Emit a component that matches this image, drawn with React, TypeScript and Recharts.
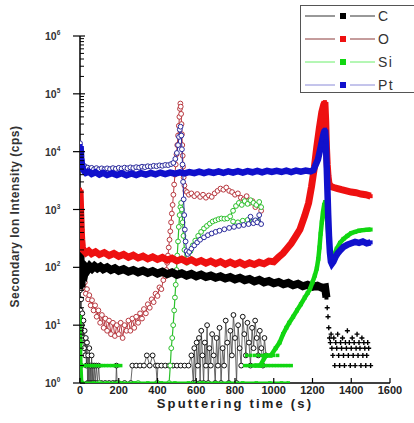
import { ScatterChart, Scatter, XAxis, YAxis, Legend } from "recharts"

type P = [number, number]

const xTicks = [0, 200, 400, 600, 800, 1000, 1200, 1400, 1600]
const yMajorTicks = [1, 10, 100, 1000, 10000, 100000, 1000000]
const yMinorSteps = [2, 3, 4, 5, 6, 7, 8, 9]
const seriesNames = ["C", "O", "Si", "Pt"]

// sample 1 (filled squares) - interface near 1260 s
const ptFilled: P[] = [
  [0, 11000], [3, 12500], [6, 8000], [10, 6000], [15, 5000], [22, 4600], [30, 4300], [45, 4500], [60, 4100],
  [80, 4400], [100, 4000], [120, 4300], [140, 3950], [165, 4250], [190, 3950], [215, 4250], [240, 3900],
  [265, 4200], [290, 3950], [315, 4250], [340, 4000], [365, 4300], [390, 4050], [415, 4350], [440, 4100],
  [465, 4350], [490, 4150], [515, 4400], [540, 4200], [565, 4450], [590, 4250], [615, 4500], [640, 4250],
  [665, 4500], [690, 4300], [715, 4550], [740, 4300], [765, 4550], [790, 4350], [815, 4600], [840, 4350],
  [865, 4600], [890, 4400], [915, 4650], [940, 4400], [965, 4650], [990, 4450], [1015, 4650], [1040, 4450],
  [1065, 4700], [1090, 4450], [1115, 4700], [1140, 4500], [1165, 4700], [1190, 4550], [1205, 4800],
  [1215, 5800], [1228, 7300], [1240, 11000], [1250, 16000], [1258, 21000], [1265, 24000], [1269, 15000],
  [1273, 6000], [1277, 2200], [1281, 800], [1285, 350], [1290, 180], [1295, 125], [1300, 115], [1308, 125],
  [1318, 150], [1330, 175], [1345, 200], [1360, 225], [1380, 245], [1400, 260], [1420, 275], [1440, 265],
  [1460, 280], [1480, 260], [1500, 270],
]

const oFilled: P[] = [
  [0, 2200], [2, 1400], [4, 800], [6, 450], [9, 300], [12, 230], [16, 200], [22, 190], [30, 178], [45, 192],
  [60, 172], [80, 186], [100, 166], [125, 180], [150, 160], [175, 174], [200, 155], [225, 167], [250, 149],
  [275, 162], [300, 145], [325, 156], [350, 140], [375, 152], [400, 137], [425, 148], [450, 133], [475, 144],
  [500, 129], [525, 139], [550, 125], [575, 135], [600, 121], [625, 131], [650, 118], [675, 128], [700, 116],
  [725, 126], [750, 113], [775, 123], [800, 112], [825, 122], [850, 110], [875, 120], [900, 112], [925, 122],
  [950, 115], [975, 128], [1000, 125], [1025, 150], [1048, 175], [1070, 215], [1090, 260], [1110, 330],
  [1135, 450], [1160, 780], [1180, 1300], [1195, 2500], [1210, 5500], [1222, 12000], [1235, 25000],
  [1248, 48000], [1258, 65000], [1264, 72000], [1268, 35000], [1272, 12000], [1276, 6000], [1280, 3800],
  [1285, 2800], [1295, 2500], [1310, 2400], [1330, 2300], [1350, 2200], [1375, 2100], [1400, 2000],
  [1425, 1950], [1450, 1850], [1475, 1800], [1500, 1700],
]

const cFilled: P[] = [
  [0, 900], [2, 300], [4, 60], [7, 45], [10, 70], [14, 60], [18, 85], [24, 80], [30, 100], [40, 92], [50, 104],
  [62, 95], [75, 105], [90, 96], [105, 103], [120, 93], [140, 100], [160, 90], [180, 96], [200, 87], [225, 93],
  [250, 84], [275, 90], [300, 82], [325, 88], [350, 80], [375, 86], [400, 78], [425, 84], [450, 76], [475, 82],
  [500, 74], [525, 79], [550, 72], [575, 77], [600, 70], [625, 75], [650, 68], [675, 72], [700, 66], [725, 70],
  [750, 64], [775, 68], [800, 62], [825, 66], [850, 60], [875, 63], [900, 57], [925, 61], [950, 55], [975, 58],
  [1000, 53], [1025, 56], [1050, 51], [1075, 54], [1100, 49], [1125, 52], [1150, 47], [1175, 50], [1200, 46],
  [1225, 48], [1250, 44], [1265, 45], [1272, 30],
]

// counting noise after the interface
const cFilledTail: P[] = [
  [1276, 20], [1280, 14], [1284, 9], [1288, 6], [1292, 5], [1296, 7], [1300, 4], [1305, 3], [1310, 6],
  [1315, 2], [1320, 5], [1325, 4], [1330, 7], [1335, 3], [1340, 2], [1345, 5], [1350, 4], [1355, 6],
  [1360, 3], [1365, 2], [1370, 5], [1375, 4], [1380, 8], [1385, 3], [1390, 5], [1395, 2], [1400, 4],
  [1405, 6], [1410, 3], [1415, 5], [1420, 2], [1425, 4], [1430, 7], [1435, 3], [1440, 5], [1445, 4],
  [1450, 2], [1455, 6], [1460, 3], [1465, 5], [1470, 4], [1475, 2], [1480, 3], [1485, 5], [1490, 4], [1500, 2],
]

const siFilled: P[] = [
  [0, 14], [3, 6], [6, 2], [10, 1], [70, 1], [140, 1], [210, 1], [280, 1], [350, 1], [420, 1], [490, 1],
  [560, 1], [630, 1], [700, 1], [770, 1], [840, 1], [910, 1], [980, 1], [1040, 1], [1075, 1],
]

const siFilledRise: P[] = [
  [900, 2], [930, 2], [960, 3], [985, 3], [1010, 4], [1030, 5], [1048, 7], [1065, 9], [1080, 11], [1100, 14],
  [1120, 18], [1140, 23], [1160, 30], [1175, 36], [1187, 42], [1200, 55], [1212, 72], [1222, 95], [1230, 140],
  [1236, 220], [1242, 380], [1248, 600], [1254, 900], [1260, 1200], [1265, 1350], [1270, 1000], [1276, 600],
  [1282, 350], [1288, 210], [1294, 150], [1300, 140], [1310, 160], [1325, 210], [1342, 265], [1360, 310],
  [1380, 350], [1400, 390], [1420, 410], [1440, 430], [1460, 440], [1480, 445], [1500, 450],
]

const siFilledLow: P[] = [
  [5, 2], [18, 2], [30, 2], [42, 2], [55, 2], [68, 2], [80, 2], [95, 2], [108, 2], [120, 2], [135, 2],
  [150, 2], [165, 2], [180, 2], [195, 2], [210, 2], [850, 2], [865, 2], [880, 2], [895, 2], [910, 2],
  [925, 2], [940, 2], [955, 2], [970, 2], [985, 2], [1000, 2], [1015, 2], [1030, 2], [1045, 2], [1060, 2],
  [1075, 2], [1090, 2], [860, 3], [880, 3], [900, 3], [920, 3], [940, 3], [1000, 3], [1020, 3],
]

// sample 2 (open circles) - interface near 520 s
const ptOpen: P[] = [
  [0, 14000], [3, 11000], [6, 8500], [9, 7000], [13, 6000], [18, 5500], [25, 5600], [32, 5100], [40, 5300],
  [50, 5000], [60, 5250], [72, 4950], [85, 5200], [98, 4950], [112, 5150], [126, 4950], [140, 5150],
  [155, 5000], [170, 5200], [185, 5050], [200, 5250], [215, 5100], [230, 5300], [245, 5150], [260, 5350],
  [275, 5200], [290, 5400], [305, 5300], [320, 5500], [335, 5400], [350, 5600], [365, 5500], [380, 5700],
  [395, 5600], [410, 5800], [425, 5700], [440, 5900], [455, 5850], [470, 6100], [482, 6400], [492, 7500],
  [500, 9500], [506, 13000], [511, 18000], [515, 24000], [519, 27000], [523, 19000], [526, 11000],
  [529, 6000], [532, 3000], [535, 1500], [538, 800], [541, 450], [545, 280], [550, 190], [556, 170],
  [564, 185], [575, 210], [590, 240], [605, 270], [620, 300], [640, 330], [660, 360], [680, 385], [700, 410],
  [720, 430], [745, 455], [770, 480], [795, 500], [820, 520], [845, 540], [870, 560], [880, 750], [895, 580],
  [905, 650], [915, 600], [925, 800], [935, 560],
]

const oOpen: P[] = [
  [0, 110], [4, 80], [8, 90], [12, 60], [16, 70], [20, 45], [25, 55], [30, 35], [36, 42], [42, 28], [48, 33],
  [55, 22], [62, 27], [70, 18], [78, 22], [86, 14], [95, 18], [104, 11], [113, 15], [122, 9], [131, 13],
  [140, 8], [150, 12], [160, 7], [170, 11], [180, 6.5], [190, 10], [200, 7], [210, 11], [220, 6], [230, 10],
  [240, 8], [250, 12], [260, 8], [270, 13], [280, 9], [290, 14], [300, 11], [310, 16], [320, 13], [330, 19],
  [340, 16], [350, 23], [360, 20], [370, 28], [380, 25], [390, 35], [400, 32], [410, 45], [420, 42], [430, 60],
  [440, 70], [446, 90], [450, 120], [454, 160], [458, 220], [462, 300], [466, 420], [470, 600], [474, 850],
  [478, 1200], [482, 1800], [486, 2700], [490, 4000], [494, 6000], [498, 9000], [502, 13000], [506, 19000],
  [510, 28000], [513, 40000], [516, 55000], [518, 68000], [520, 60000], [522, 45000], [524, 30000],
  [526, 20000], [528, 13000], [530, 8500], [532, 5500], [535, 3600], [539, 2600], [544, 2100], [552, 2000],
  [562, 1800], [575, 1900], [590, 1700], [605, 1850], [620, 1650], [635, 1800], [650, 1600], [665, 1750],
  [680, 1650], [695, 1900], [710, 2100], [725, 2300], [740, 2200], [755, 2400], [770, 2100], [785, 2000],
  [800, 1800], [815, 1900], [830, 1600], [845, 1500], [860, 1700], [875, 1300], [890, 1400], [905, 1100],
  [920, 1200], [935, 950],
]

const siOpen: P[] = [
  [0, 10], [3, 5], [6, 2], [10, 1], [100, 1], [200, 1], [300, 1], [400, 1], [460, 1], [466, 2], [471, 4],
  [476, 6], [481, 10], [486, 18], [490, 30], [494, 50], [498, 90], [502, 160], [506, 280], [510, 500],
  [514, 800], [518, 1100], [522, 1300], [526, 1000], [530, 600], [534, 350], [539, 200], [545, 130],
  [552, 120], [560, 150], [570, 190], [582, 240], [595, 290], [610, 350], [625, 410], [640, 470], [655, 520],
  [670, 570], [685, 620], [700, 650], [715, 680], [730, 700], [745, 690], [760, 700], [775, 760], [790, 950],
  [805, 1150], [820, 1300], [835, 1200], [850, 1400], [865, 1250], [880, 1450], [895, 1300], [910, 1200],
  [925, 1350], [935, 1100],
]

const siOpenLow: P[] = [[790, 620], [815, 600], [840, 640], [865, 660], [890, 610], [915, 640]]

const cOpen: P[] = [
  [0, 40], [3, 18], [6, 28], [9, 10], [12, 16], [15, 6], [18, 12], [21, 4], [24, 8], [27, 3], [30, 6], [33, 2],
  [36, 5], [39, 1], [42, 3], [45, 1], [48, 4], [51, 1], [54, 2], [57, 1], [60, 3], [63, 1], [66, 2], [70, 1],
  [74, 2], [78, 1], [84, 2], [90, 1], [96, 2], [102, 1], [110, 1], [130, 1], [150, 1], [170, 1], [185, 1],
  [188, 2], [192, 1], [230, 1], [262, 1], [270, 2], [290, 2], [310, 2], [330, 2], [345, 3], [360, 2], [375, 3],
  [392, 2], [398, 1], [402, 2], [420, 2], [440, 2], [460, 2], [480, 2], [500, 2], [520, 2], [540, 2], [560, 2],
  [575, 3], [585, 1], [590, 4], [596, 1], [602, 5], [608, 2], [614, 6], [620, 1], [626, 8], [632, 3], [638, 1],
  [644, 5], [650, 2], [656, 10], [662, 1], [668, 4], [675, 2], [682, 7], [690, 3], [698, 1], [705, 6],
  [712, 2], [720, 9], [728, 1], [736, 4], [744, 2], [752, 12], [760, 5], [768, 1], [776, 8], [784, 3],
  [792, 15], [800, 6], [808, 1], [816, 10], [824, 4], [832, 2], [840, 14], [848, 7], [856, 3], [864, 11],
  [872, 5], [880, 2], [888, 9], [896, 4], [904, 12], [912, 6], [920, 3], [928, 8], [936, 4], [944, 2],
  [952, 6], [960, 3],
]

const FONT = "'Liberation Sans', Arial, Helvetica, sans-serif"

const COLORS = {
  C: { mark: "#000000", line: "#333333", open: "#111111" },
  O: { mark: "#ee1111", line: "#8b3a3a", open: "#b8383f" },
  Si: { mark: "#11d611", line: "#6aee6a", open: "#2cc02c" },
  Pt: { mark: "#1111cc", line: "#8a8ad8", open: "#2a2a9c" },
}

const toPts = (arr: P[]) => arr.map(([t, v]) => ({ t, v }))

const yTicks = [
  ...yMajorTicks,
  ...yMajorTicks.slice(0, -1).flatMap((d) => yMinorSteps.map((k) => k * d)),
].sort((a, b) => a - b)

const square = (color: string, s = 4) => (p: any) =>
  <rect x={p.cx - s / 2} y={p.cy - s / 2} width={s} height={s} fill={color} />

const ring = (color: string) => (p: any) =>
  <circle cx={p.cx} cy={p.cy} r={2.4} fill="#fff" stroke={color} strokeWidth={1} />

const plus = (p: any) =>
  <path d={`M${p.cx - 2.5},${p.cy}h5M${p.cx},${p.cy - 2.5}v5`} stroke="#000" strokeWidth={1.4} />

function XTick({ x, y, payload }: any) {
  return (
    <g>
      <line x1={x} x2={x} y1={y} y2={y - 5} stroke="#000" strokeWidth={1.2} />
      <text x={x} y={y + 11} textAnchor="middle" fontFamily={FONT} fontSize={11} fontWeight={600} fill="#222">
        {payload.value}
      </text>
    </g>
  )
}

function YTick({ x, y, payload }: any) {
  const idx = yMajorTicks.indexOf(payload.value)
  if (idx < 0) {
    return <line x1={x} x2={x + 4} y1={y} y2={y} stroke="#000" strokeWidth={1} />
  }
  return (
    <g>
      <line x1={x - 7} x2={x + 5} y1={y} y2={y} stroke="#000" strokeWidth={1.2} />
      <text x={x - 35} y={y + 4} fontFamily={FONT} fontSize={10.5} fontWeight={600} fill="#333">
        10<tspan dy={-5} fontSize={6.5}>{idx}</tspan>
      </text>
    </g>
  )
}

function LegendBox() {
  return (
    <div style={{ width: 114, height: 88, border: "1px solid #555", borderRight: "none", background: "#fff", boxSizing: "border-box" }}>
      <svg width={113} height={86} style={{ display: "block" }}>
        {seriesNames.map((name, i) => {
          const c = COLORS[name as keyof typeof COLORS]
          const y = 10 + i * 23
          return (
            <g key={name}>
              <line x1={4} x2={34} y1={y} y2={y} stroke={c.line} strokeWidth={1} />
              <rect x={39} y={y - 3} width={6} height={6} fill={c.mark} />
              <line x1={49} x2={74} y1={y} y2={y} stroke={c.line} strokeWidth={1} />
              <text x={77} y={y + 5} fontFamily={FONT} fontSize={14} fill="#333" letterSpacing={1.5}>
                {name}
              </text>
            </g>
          )
        })}
      </svg>
    </div>
  )
}

export default function App() {
  return (
    <div style={{ position: "absolute", left: 0, top: 0, background: "#fff" }}>
      <ScatterChart width={414} height={423} margin={{ top: 36, right: 24, bottom: 10, left: 20 }}>
        <XAxis
          type="number"
          dataKey="t"
          domain={[0, 1600]}
          ticks={xTicks}
          interval={0}
          allowDataOverflow
          height={30}
          tickSize={0}
          tickMargin={0}
          tick={<XTick />}
          axisLine={{ stroke: "#000", strokeWidth: 1.5 }}
          label={{
            content: ({ viewBox }: any) => (
              <text x={viewBox.x + viewBox.width / 2} y={viewBox.y + 25} textAnchor="middle" fontFamily={FONT}
                fontSize={13} fontWeight="bold" letterSpacing={2.2} fill="#222">
                Sputtering time (s)
              </text>
            ),
          }}
        />
        <YAxis
          type="number"
          dataKey="v"
          scale="log"
          domain={[1, 1000000]}
          ticks={yTicks}
          interval={0}
          allowDataOverflow
          width={60}
          tickSize={0}
          tickMargin={0}
          tick={<YTick />}
          axisLine={{ stroke: "#000", strokeWidth: 1.5 }}
          label={{
            content: ({ viewBox }: any) => {
              const cx = viewBox.x - 1
              const cy = viewBox.y + viewBox.height / 2 + 7
              return (
                <text x={cx} y={cy} transform={`rotate(-90 ${cx} ${cy})`} textAnchor="middle" fontFamily={FONT}
                  fontSize={12} fontWeight="bold" letterSpacing={0.5} fill="#333">
                  Secondary Ion Intensity (cps)
                </text>
              )
            },
          }}
        />
        <Legend
          layout="vertical"
          verticalAlign="middle"
          align="center"
          content={() => <LegendBox />}
          wrapperStyle={{ left: 300, top: 5, width: 114, height: 88 }}
        />

        {/* sample 2: open circles */}
        <Scatter data={toPts(cOpen)} fill={COLORS.C.open} line={{ stroke: "#444", strokeWidth: 0.8 }} shape={ring(COLORS.C.open)} isAnimationActive={false} />
        <Scatter data={toPts(oOpen)} fill={COLORS.O.open} line={{ stroke: COLORS.O.open, strokeWidth: 1 }} shape={ring(COLORS.O.open)} isAnimationActive={false} />
        <Scatter data={toPts(siOpen)} fill={COLORS.Si.open} line={{ stroke: COLORS.Si.open, strokeWidth: 1.2 }} shape={ring(COLORS.Si.open)} isAnimationActive={false} />
        <Scatter data={toPts(siOpenLow)} fill={COLORS.Si.open} shape={ring(COLORS.Si.open)} isAnimationActive={false} />
        <Scatter data={toPts(ptOpen)} fill={COLORS.Pt.open} line={{ stroke: COLORS.Pt.open, strokeWidth: 1 }} shape={ring(COLORS.Pt.open)} isAnimationActive={false} />

        {/* sample 1: filled squares */}
        <Scatter data={toPts(siFilled)} fill={COLORS.Si.mark} line={{ stroke: COLORS.Si.mark, strokeWidth: 3 }} shape={square(COLORS.Si.mark, 3.5)} isAnimationActive={false} />
        <Scatter data={toPts(siFilledLow)} fill={COLORS.Si.mark} shape={square(COLORS.Si.mark, 3.5)} isAnimationActive={false} />
        <Scatter data={toPts(cFilled)} fill={COLORS.C.mark} line={{ stroke: COLORS.C.mark, strokeWidth: 8 }} shape={square(COLORS.C.mark)} isAnimationActive={false} />
        <Scatter data={toPts(cFilledTail)} fill={COLORS.C.mark} shape={plus} isAnimationActive={false} />
        <Scatter data={toPts(oFilled)} fill={COLORS.O.mark} line={{ stroke: COLORS.O.mark, strokeWidth: 7 }} shape={square(COLORS.O.mark)} isAnimationActive={false} />
        <Scatter data={toPts(siFilledRise)} fill={COLORS.Si.mark} line={{ stroke: COLORS.Si.mark, strokeWidth: 4.5 }} shape={square(COLORS.Si.mark)} isAnimationActive={false} />
        <Scatter data={toPts(ptFilled)} fill={COLORS.Pt.mark} line={{ stroke: COLORS.Pt.mark, strokeWidth: 6.5 }} shape={square(COLORS.Pt.mark)} isAnimationActive={false} />
      </ScatterChart>
    </div>
  )
}
